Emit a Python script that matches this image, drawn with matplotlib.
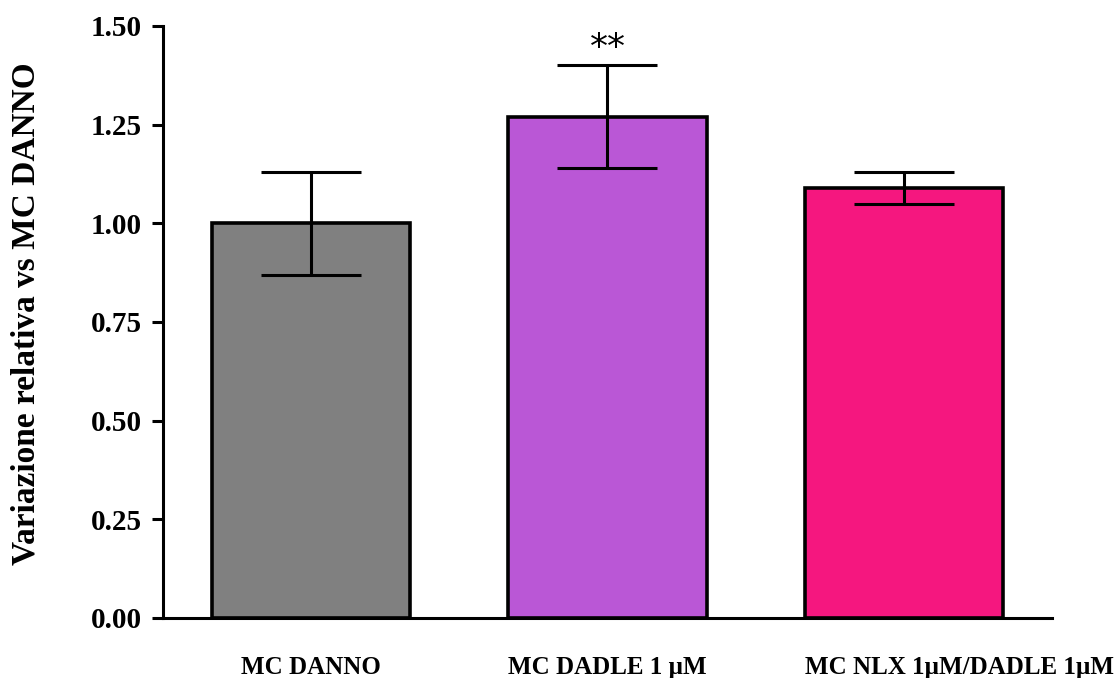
import matplotlib
matplotlib.use("Agg")
import matplotlib.pyplot as plt
import matplotlib.transforms as mtransforms

# Data
categories = ["MC DANNO", "MC DADLE 1 \u00b5M", "MC NLX 1\u00b5M/DADLE 1\u00b5M"]
means = [1.00, 1.27, 1.09]
sem = [0.13, 0.13, 0.04]
colors = ["#808080", "#BA57D6", "#F5177F"]
significance = ["", "**", ""]
yticks = [0.00, 0.25, 0.50, 0.75, 1.00, 1.25, 1.50]

plt.rcParams["font.family"] = ["Liberation Serif", "DejaVu Serif"]
plt.rcParams["font.weight"] = "bold"

fig = plt.figure(figsize=(11.17, 6.78), dpi=100)
ax = fig.add_axes([0.1459, 0.0885, 0.7959, 0.8732])

x = list(range(len(categories)))
bar_width = 0.67
ax.bar(x, means, width=bar_width, color=colors, edgecolor="black", linewidth=2.6, zorder=2)
ax.errorbar(x, means, yerr=sem, fmt="none", ecolor="black", elinewidth=2.2,
            capsize=36, capthick=2.2, zorder=3)

for xi, m, s, lab in zip(x, means, sem, significance):
    if lab:
        ax.annotate(lab, (xi, m + s), xytext=(0, 0), textcoords="offset points",
                    ha="center", va="bottom", fontsize=26,
                    family=["DejaVu Sans"], fontweight="normal")

ax.set_xlim(-0.5, 2.5)
ax.set_ylim(0, 1.5)
ax.set_yticks(yticks)
ax.set_yticklabels([f"{t:.2f}" for t in yticks], fontsize=21, fontweight="bold")
ax.set_xticks(x)
ax.set_xticklabels([])
ax.tick_params(axis="x", length=0)
ax.tick_params(axis="y", direction="out", length=8, width=2.2, pad=7)

# Category labels below the axis; the last one starts at its bar's left edge
trans = mtransforms.blended_transform_factory(ax.transData, ax.transAxes)
for i, (xi, lab) in enumerate(zip(x, categories)):
    if i == len(categories) - 1:
        ax.text(xi - bar_width / 2, -0.083, lab, transform=trans, ha="left", va="center",
                fontsize=18, fontweight="bold")
    else:
        ax.text(xi, -0.083, lab, transform=trans, ha="center", va="center",
                fontsize=18, fontweight="bold")

for side in ["top", "right"]:
    ax.spines[side].set_visible(False)
for side in ["left", "bottom"]:
    ax.spines[side].set_linewidth(2.2)

ax.set_ylabel("Variazione relativa vs MC DANNO", fontsize=24, fontweight="bold")
ax.yaxis.set_label_coords(-0.137, 0.514)

fig.savefig("out.png", dpi=100)
